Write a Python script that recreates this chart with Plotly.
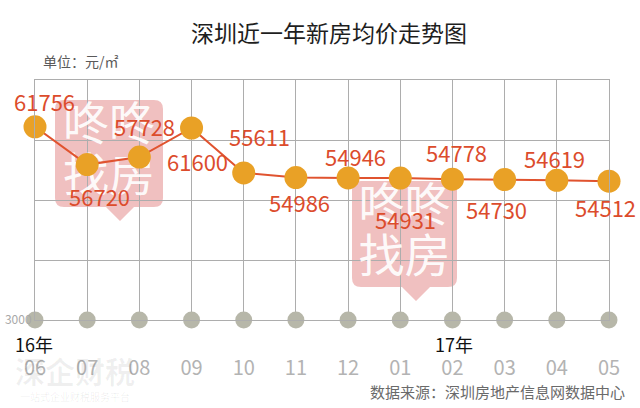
import plotly.graph_objects as go

# ---- data ----
months = ["06", "07", "08", "09", "10", "11", "12", "01", "02", "03", "04", "05"]
prices = [61756, 56720, 57728, 61600, 55611, 54986, 54946, 54931, 54778, 54730, 54619, 54512]
year_labels = [("16年", "06"), ("17年", "02")]
y_tick_labels = ["3000"]

title_text = "深圳近一年新房均价走势图"
unit_text = "单位：元/㎡"
source_text = "数据来源：深圳房地产信息网数据中心"

# ---- style / layout ----
W, H = 640, 408
L, R, T, B = 35, 609, 80, 320
Y_MIN, Y_MAX, Y_STEP = 36000, 68000, 8000
idx = list(range(len(months)))

# label offsets (pixels) relative to each point: (xshift, yshift)
label_shift = [(9, 26), (12, -31), (5, 31), (6, -33), (16, 37), (4, -24),
               (7, 22), (5, -41), (4, 27), (-8, -29), (-2, 22), (-4, -26)]

FONT = "Noto Sans CJK SC"
RED = "#DC4C2C"
ORANGE = "#E9A126"
GRID = "#ADADAD"


def px(x):
    return (x - L) / (R - L)


def py(y):
    return (B - y) / (B - T)


def dx_(x):  # pixel -> data x
    return (x - L) / (R - L) * (len(months) - 1)


def dy_(y):  # pixel -> data y
    return Y_MIN + (B - y) / (B - T) * (Y_MAX - Y_MIN)


def note(x, y, text, size, color, xanchor="center"):
    return dict(x=px(x), y=py(y), xref="paper", yref="paper", text=text,
                showarrow=False, xanchor=xanchor, yanchor="middle",
                font=dict(family=FONT, size=size, color=color))


fig = go.Figure()

# pink "咚咚找房" watermark boxes (shape below, text as a text trace under the line)
shapes = []
wm_x, wm_y, wm_t = [], [], []
for (x0, y0, x1, y1, tipx) in [(55, 100, 163, 207, 120), (352, 181, 457, 287, 416)]:
    r = 9
    path = (f"M {px(x0 + r)} {py(y0)} L {px(x1 - r)} {py(y0)} "
            f"Q {px(x1)} {py(y0)} {px(x1)} {py(y0 + r)} "
            f"L {px(x1)} {py(y1 - r)} Q {px(x1)} {py(y1)} {px(x1 - r)} {py(y1)} "
            f"L {px(tipx + 14)} {py(y1)} L {px(tipx)} {py(y1 + 14)} L {px(tipx - 14)} {py(y1)} "
            f"L {px(x0 + r)} {py(y1)} Q {px(x0)} {py(y1)} {px(x0)} {py(y1 - r)} "
            f"L {px(x0)} {py(y0 + r)} Q {px(x0)} {py(y0)} {px(x0 + r)} {py(y0)} Z")
    shapes.append(dict(type="path", path=path, xref="paper", yref="paper",
                       fillcolor="rgba(225,130,130,0.5)", line=dict(width=0),
                       layer="below"))
    cx = (x0 + x1) / 2
    wm_x += [dx_(cx), dx_(cx)]
    wm_y += [dy_(y0 + 28), dy_(y0 + 79)]
    wm_t += ["咚咚", "找房"]

fig.add_trace(go.Scatter(
    x=wm_x, y=wm_y, text=wm_t, mode="text", textposition="middle center",
    textfont=dict(family=FONT, size=46, color="rgba(255,255,255,0.92)"),
    cliponaxis=False, hoverinfo="skip", showlegend=False))

# baseline grey dots
fig.add_trace(go.Scatter(
    x=idx, y=[Y_MIN] * len(months), mode="markers",
    marker=dict(size=17, color="#B7B7A9"), cliponaxis=False,
    hoverinfo="skip", showlegend=False))

# price line
fig.add_trace(go.Scatter(
    x=idx, y=prices, mode="lines+markers",
    line=dict(color="#E0532F", width=2),
    marker=dict(size=23, color=ORANGE),
    cliponaxis=False, showlegend=False))

annotations = []
# faint watermark bottom-left
annotations.append(note(75, 370, "<b>深企财税</b>", 30, "rgba(0,0,0,0.06)"))
annotations.append(note(75, 396, "一站式企业财税服务平台", 10, "rgba(0,0,0,0.07)"))

for i, (v, (sx, sy)) in enumerate(zip(prices, label_shift)):
    annotations.append(dict(
        x=i, y=v, xref="x", yref="y", text=str(v), showarrow=False,
        xanchor="center", yanchor="middle",
        xshift=sx, yshift=sy, font=dict(family=FONT, size=22, color=RED)))

# title, unit, source
annotations.append(note(329, 32, title_text, 23, "#1E1E1E"))
annotations.append(note(41, 61, unit_text, 14, "#5A5A5A", xanchor="left"))
annotations.append(note(627, 391, source_text, 15, "#6A6A6A", xanchor="right"))

# year labels
year_px = {"16年": 34, "17年": 454}
for lab, m in year_labels:
    annotations.append(note(year_px[lab], 344, lab, 18, "#111111"))

fig.update_layout(
    width=W, height=H,
    margin=dict(l=L, r=W - R, t=T, b=H - B, autoexpand=False),
    paper_bgcolor="white", plot_bgcolor="white",
    annotations=annotations, shapes=shapes,
    xaxis=dict(range=[0, len(months) - 1], tickmode="array", tickvals=idx, ticktext=months,
               showgrid=True, gridcolor=GRID, gridwidth=1,
               showline=True, linecolor=GRID, mirror=True, zeroline=False,
               ticks="", ticklabelstandoff=30, automargin=False,
               tickfont=dict(family=FONT, size=20, color="#B3B3B3")),
    yaxis=dict(range=[Y_MIN, Y_MAX],
               showgrid=True, gridcolor=GRID, gridwidth=1,
               showline=True, linecolor=GRID, mirror=True, zeroline=False,
               tickmode="array", tickvals=[Y_MIN, Y_MIN + Y_STEP, Y_MIN + 2 * Y_STEP,
                                           Y_MIN + 3 * Y_STEP, Y_MAX],
               ticktext=y_tick_labels + ["", "", "", ""], ticks="", automargin=False,
               tickfont=dict(family=FONT, size=12, color="#A8A8A8")),
    hovermode=False,
)

fig.write_html("out.html", config={"displayModeBar": False},
               post_script="document.body.style.margin='0';document.body.style.overflow='hidden';")
